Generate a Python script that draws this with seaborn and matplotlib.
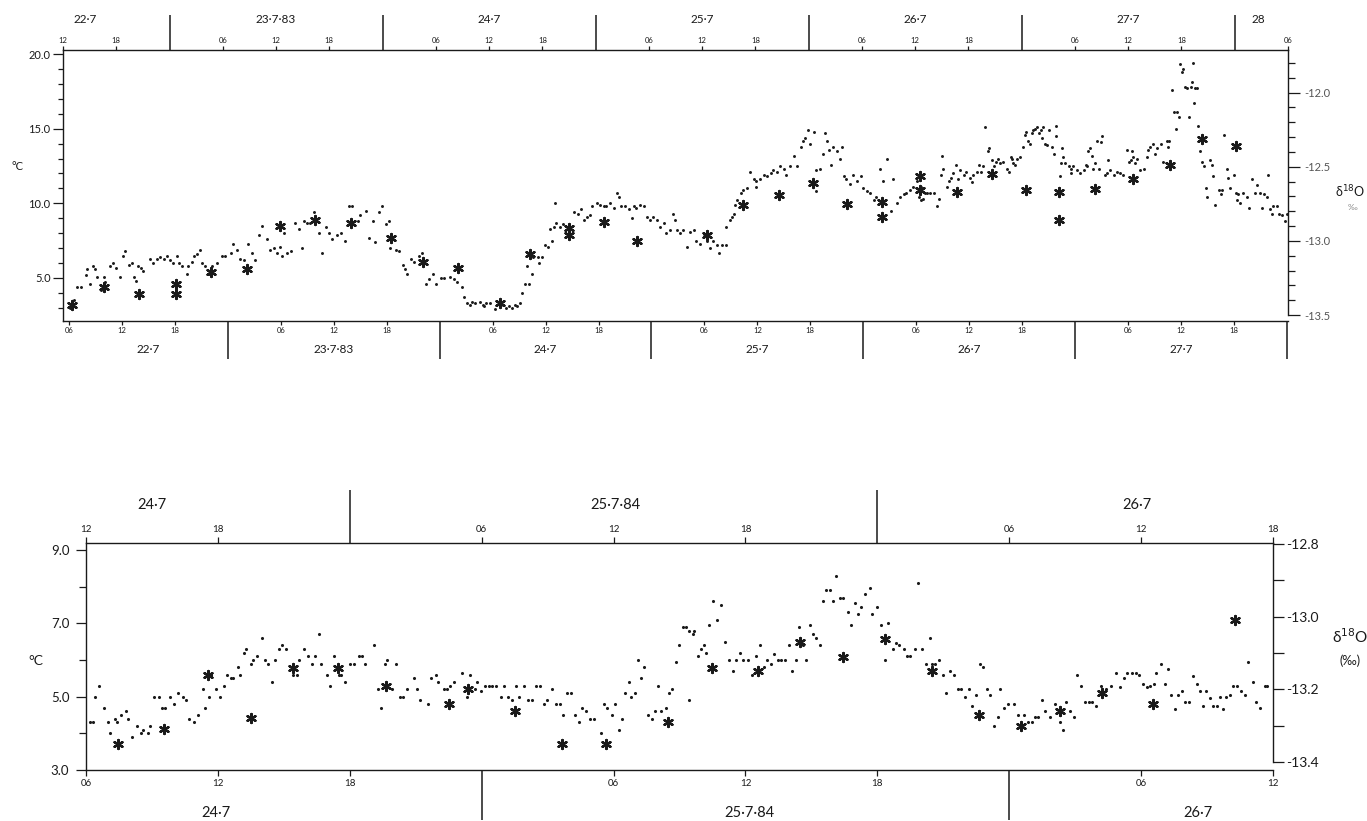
import matplotlib
matplotlib.use("Agg")
import matplotlib.pyplot as plt
import matplotlib.ticker as mt
from matplotlib.transforms import blended_transform_factory as blend
import pandas as pd
import seaborn as sns

# ------------------------------------------------------------------ data
# Upper panel (July 1983)
# air temperature: (hours after 22-7 00:00 on the lower time axis, deg C)
temp83_a = [(6.1,3.0),(6.5,3.5),(6.9,4.4),(7.3,4.4),(7.9,5.2),(8.0,5.6),(8.4,4.6),(8.7,5.8),(8.9,5.6),(9.1,5.1),
            (9.6,4.2),(9.9,5.1),(10.1,4.7),(10.6,5.8),(11.0,6.0),(11.3,5.7),(11.8,5.1),(12.1,6.5),(12.3,6.8),(12.8,5.9),
            (13.1,6.0),(13.3,5.1),(13.6,4.8),(13.8,5.8),(14.1,5.7),(14.4,5.5),(15.2,6.3),(15.5,6.0),(15.9,6.3),(16.3,6.4),
            (16.7,6.3),(17.1,6.5),(17.4,6.2),(17.8,6.0),(18.2,6.5),(18.4,6.0),(18.8,5.8),(19.3,5.3),(19.5,5.8),(19.9,6.1),
            (20.2,6.5),(20.5,6.6),(20.8,6.9),(21.0,6.0),(21.4,5.8),(21.8,5.3),(22.2,5.8),(22.7,6.0),(23.3,6.5),(23.7,6.5),
            (24.3,6.7),(24.6,7.3),(25.0,6.9),(25.4,6.3),(25.8,6.2),(26.3,7.3),(26.7,6.7),(27.1,6.2),(27.5,7.9),(27.9,8.5),
            (28.4,7.6),(28.8,6.9),(29.2,7.0),(29.6,6.7),(29.9,7.1),(30.1,6.5),(30.4,8.0),(30.7,6.7),(31.1,6.8),(31.6,8.7),
            (32.0,8.3),(32.4,7.0),(32.6,8.8),(33.0,8.7),(33.3,8.7),(33.7,9.4),(34.3,8.0),(34.7,6.7),(35.1,8.4),(35.4,8.0),
            (35.8,7.6),(36.4,7.9),(36.8,8.0),(37.3,7.5),(37.7,9.8),(38.1,9.8),(38.7,8.8),(39.0,9.2),(39.6,9.5),(40.0,7.7),
            (40.4,8.8),(40.7,7.4),(41.1,9.4),(41.5,9.8),(41.9,8.6),(42.3,8.8),(42.4,7.0),(43.0,6.9),(43.4,6.8),(43.8,5.9),
            (44.1,5.6),(44.3,5.3),(44.7,6.3),(45.1,6.1),(45.7,6.5),(46.0,6.7),(46.4,4.6),(46.8,4.9),(47.2,5.3),(47.6,4.6),
            (48.1,5.0),(48.5,5.0)]
temp83_b = [(49.2,5.1),(49.6,4.9),(50.0,4.7),(50.5,4.4),(50.8,3.75),(51.1,3.3),(51.4,3.2),(51.7,3.4),(52.0,3.3),(52.6,3.4),
            (52.9,3.2),(53.0,3.1),(53.3,3.3),(53.7,3.3),(54.3,2.9),(54.8,3.4),(55.2,3.2),(55.5,3.0),(55.8,3.1),(56.2,3.0),
            (56.5,3.2),(56.8,3.1),(57.1,3.3),(57.3,4.0),(57.7,4.6),(57.9,5.8),(58.0,6.7),(58.1,4.6),(58.5,5.3),(58.6,6.4),
            (59.1,6.4),(59.3,6.0),(59.6,6.4),(59.9,7.2),(60.3,7.1),(60.5,8.3),(60.7,7.5),(60.9,8.4),(61.1,10.0),(61.2,8.7),
            (61.6,8.4),(62.0,8.6),(62.5,8.4),(63.2,9.4),(63.7,9.3),(64.0,9.6),(64.3,8.9),(64.7,9.1),(65.0,9.2),(65.3,9.8),
            (65.8,10.0),(66.2,9.9),(66.6,9.8),(66.9,9.8),(67.3,10.0),(67.7,9.7),(68.1,10.7),(68.3,10.4),(68.6,9.8),(69.0,9.8),
            (69.4,9.6),(69.8,9.0),(70.0,9.8),(70.3,9.7),(70.7,9.9),(71.1,9.8),(71.5,9.1),(71.8,8.9),(72.2,9.1),(72.6,8.9),
            (73.0,8.4),(73.4,8.7),(73.7,8.0),(74.1,8.2),(74.4,9.3),(74.7,8.9),(74.9,8.2),(75.2,8.0),(75.6,8.2),(76.0,7.1),
            (76.4,8.1),(76.8,8.2),(77.1,7.5),(77.5,7.3),(77.9,7.8),(78.3,7.5),(78.6,7.0),(79.0,7.5),(79.4,7.2),(79.7,6.7),
            (80.0,7.2),(80.4,7.2),(80.5,8.4),(80.9,8.9),(81.1,9.1),(81.3,9.3),(81.5,9.9),(81.7,10.2),(82.1,10.7),(82.4,10.9),
            (82.8,11.0),(83.2,12.1),(83.6,11.6),(83.8,11.1),(83.9,11.5),(84.3,11.6),(84.7,11.9),(85.1,11.8),(85.5,12.0),(85.8,12.2),
            (86.2,12.1),(86.6,12.5),(87.0,12.3),(87.3,11.9),(87.7,12.5),(88.1,13.2),(88.5,12.5),(88.9,13.8),(89.2,14.2),(89.4,14.4),
            (89.8,14.9),(90.0,14.0),(90.4,14.8),(90.6,12.2),(90.7,10.8),(91.1,12.3),(91.5,13.3),(91.7,14.7),(91.9,14.2),(92.1,13.6),
            (92.3,12.6),(92.6,13.8),(93.0,13.5),(93.4,13.0),(93.6,13.8),(93.8,11.8),(94.1,11.6),(94.5,11.3),(94.9,11.9),(95.3,11.5),
            (95.7,11.8),(96.0,11.0),(96.4,10.8),(96.8,10.7),(97.2,10.2),(97.5,10.4),(97.9,12.3),(98.3,11.5),(98.7,13.0),(99.1,9.5),
            (99.4,11.6),(99.8,10.0)]
temp83_c = [(100.2,10.4),(100.6,10.6),(100.9,10.7),(101.3,10.9),(101.7,11.1),(102.1,11.5),(102.3,10.4),(102.5,11.1),(102.6,10.2),(102.8,10.3),
            (103.0,10.7),(103.2,10.7),(103.6,10.7),(104.0,10.7),(104.4,9.8),(104.6,10.3),(104.8,11.9),(104.9,13.2),(105.1,12.3),(105.5,11.1),
            (105.7,11.5),(105.9,11.7),(106.2,12.0),(106.5,12.6),(106.8,11.6),(107.0,12.2),(107.4,11.9),(107.7,12.1),(108.1,11.7),(108.3,11.4),
            (108.5,11.9),(108.9,12.1),(109.1,12.6),(109.3,12.1),(109.6,12.5),(109.8,15.1),(110.1,13.5),(110.3,13.7),(110.6,12.9),(110.8,12.5),
            (111.1,12.8),(111.3,13.0),(111.5,12.7),(111.9,12.8),(112.3,12.3),(112.5,12.1),(112.7,13.1),(112.9,13.0),(113.0,12.7),(113.2,12.6),
            (113.4,13.0),(113.8,13.1),(114.1,13.8),(114.3,14.6),(114.5,14.8),(114.7,14.2),(114.9,14.0),(115.1,14.7),(115.3,14.9),(115.5,15.0),
            (115.7,15.1),(115.9,14.7),(116.1,14.9),(116.3,14.4),(116.4,15.1),(116.6,14.0),(116.8,13.9),(117.1,14.9),(117.4,13.8),(117.6,13.3),
            (117.8,15.2),(117.9,14.5),(118.3,11.8),(118.4,12.7),(118.5,13.7),(118.7,13.1),(118.9,12.7),(119.3,12.5),(119.5,12.0),(119.6,12.3),
            (119.8,12.5),(120.2,12.2),(120.6,12.0),(121.0,12.2),(121.2,12.6),(121.4,12.5),(121.5,13.5),(121.7,13.7),(121.9,13.2),(122.1,12.3),
            (122.3,12.7),(122.5,14.2),(122.7,12.3),(122.9,14.1),(123.1,14.5),(123.4,11.9),(123.6,12.0),(123.8,12.9),(124.0,12.2),(124.4,11.9),
            (124.8,12.1),(125.1,12.0),(125.5,11.9),(125.9,13.6),(126.1,12.8),(126.3,12.9),(126.5,13.5),(126.6,13.1),(126.8,12.7),(127.0,13.0),
            (127.4,12.2),(127.8,12.3),(128.2,13.1),(128.3,13.6),(128.5,13.8),(128.9,14.0),(129.1,13.3),(129.3,13.7),(129.7,14.0),(130.0,12.8),
            (130.4,14.2),(130.6,13.8),(130.7,14.2),(131.0,17.6),(131.2,16.1),(131.4,15.0),(131.6,16.1),(131.8,15.8),(131.9,19.3),(132.1,18.8),
            (132.3,19.0),(132.5,17.8),(132.7,17.7),(132.9,15.8),(133.1,17.8),(133.3,18.1),(133.4,19.4),(133.5,16.7),(133.6,17.7),(133.8,17.7),
            (134.0,15.2),(134.2,13.5),(134.4,12.8),(134.6,12.5),(134.8,11.0),(135.0,10.4),(135.3,12.9),(135.5,12.6),(135.7,11.8),(135.9,9.9),
            (136.3,10.9),(136.5,10.6),(136.7,10.9),(136.9,14.6),(137.2,12.3),(137.4,11.7),(137.6,11.0),(138.0,11.9),(138.2,10.7),(138.4,10.2),
            (138.5,10.6),(138.7,10.0),(139.1,10.7),(139.5,10.4),(139.7,9.7),(140.1,11.6),(140.4,10.7),(140.6,11.2),(141.0,10.7),(141.2,9.7),
            (141.4,10.6),(141.8,10.4),(141.9,11.9),(142.1,9.6),(142.3,9.3),(142.5,9.8),(142.9,9.8),(143.1,9.3),(143.5,9.2),(143.8,8.8),
            (144.0,9.3)]
# delta 18O of samples: (hours after 22-7 00:00 on the upper time axis, permil)
d18o83 = [(13.0,-13.43),(16.6,-13.31),(20.6,-13.36),(24.7,-13.29),(24.7,-13.36),(28.7,-13.21),(32.7,-13.19),(36.4,-12.90),
          (40.4,-12.86),(44.4,-12.88),(48.9,-12.98),(52.6,-13.14),(56.5,-13.18),(61.2,-13.42),(64.6,-13.09),(69.0,-12.91),
          (69.0,-12.96),(72.9,-12.87),(76.7,-13.00),(84.5,-12.96),(88.6,-12.76),(92.7,-12.69),(96.5,-12.61),(100.3,-12.75),
          (104.3,-12.74),(104.3,-12.84),(108.5,-12.56),(108.5,-12.66),(112.7,-12.67),(116.7,-12.55),(120.5,-12.66),
          (124.2,-12.67),(124.2,-12.86),(128.3,-12.65),(132.5,-12.58),(136.7,-12.49),(140.3,-12.31),(144.1,-12.36)]

# Lower panel (July 1984)
# air temperature: (hours after 24-7 00:00 on the lower time axis, deg C)
temp84_a = [(6.2,4.3),(6.3,4.3),(6.4,5.0),(6.6,5.3),(6.8,4.7),(7.0,4.3),(7.1,4.0),(7.3,4.4),(7.4,4.3),(7.6,4.5),
            (7.8,4.6),(7.9,4.4),(8.1,3.9),(8.3,4.2),(8.5,4.0),(8.6,4.1),(8.8,4.0),(8.9,4.2),(9.1,5.0),(9.3,5.0),
            (9.45,4.7),(9.6,4.7),(9.8,5.0),(10.0,4.8),(10.2,5.1),(10.4,5.0),(10.55,4.9),(10.7,4.4),(10.9,4.3),(11.1,4.5),
            (11.3,5.2),(11.4,4.7),(11.55,5.6),(11.6,5.0),(11.7,5.6),(11.9,5.2),(12.1,5.0),(12.3,5.3),(12.4,5.6),(12.6,5.5),
            (12.7,5.5),(12.9,5.8),(13.0,5.6),(13.2,6.2),(13.3,6.3),(13.5,5.9),(13.6,6.0),(13.8,6.1),(14.0,6.6),(14.15,6.0),
            (14.3,5.9),(14.45,5.4),(14.6,6.0),(14.8,6.3),(14.9,6.4),(15.1,6.3),(15.4,5.6),(15.6,5.6),(15.7,6.0),(15.9,6.3),
            (16.1,6.1),(16.3,5.9),(16.4,6.1),(16.6,6.7),(16.7,5.9),(16.95,5.6),(17.1,5.3),(17.3,6.1),(17.4,5.8),(17.5,5.6),
            (17.6,5.6),(17.8,5.4),(18.0,5.9),(18.2,5.9),(18.4,6.1),(18.55,6.1),(18.7,5.9),(19.1,6.4),(19.3,5.2),(19.4,4.7),
            (19.6,5.9),(19.7,6.0),(19.9,5.2),(20.1,5.9),(20.3,5.0),(20.4,5.0),(20.6,5.2),(20.9,5.5),(21.05,5.2),(21.2,4.9),
            (21.55,4.8),(21.7,5.5),(21.9,5.6),(22.0,5.4),(22.3,5.2)]
temp84_b = [(22.43,5.2),(22.58,5.3),(22.73,5.4),(23.11,5.65),(23.34,5.0),(23.49,5.6),(23.69,5.2),(23.79,5.4),(23.99,5.15),
            (24.17,5.3),(24.33,5.3),(24.48,5.3),(24.63,5.3),(24.86,5.0),(25.01,5.3),(25.21,5.0),(25.39,4.9),(25.54,5.3),(25.72,5.0),
            (25.92,5.3),(26.12,4.9),(26.30,4.9),(26.45,5.3),(26.64,5.3),(26.83,4.8),(26.99,4.9),(27.21,5.2),(27.40,4.8),(27.55,4.8),
            (27.70,4.5),(27.90,5.1),(28.05,5.1),(28.25,4.5),(28.43,4.3),(28.58,4.7),(28.73,4.6),(28.92,4.4),(29.11,4.4),(29.42,4.0),
            (29.57,4.8),(29.72,4.7),(29.92,4.5),(30.07,4.8),(30.25,4.1),(30.37,4.4),(30.51,5.1),(30.68,5.4),(30.81,5.0),(30.98,5.1),
            (31.09,6.0),(31.24,5.5),(31.39,5.8),(31.57,4.5),(31.74,4.4),(31.89,4.6),(32.03,5.3),(32.15,4.6),(32.38,4.7),(32.53,5.1),
            (32.68,5.2),(32.84,5.95),(32.99,6.4),(33.14,6.9),(33.29,6.9),(33.44,6.8),(33.60,6.7),(33.67,6.8),(33.44,4.9),(33.82,6.1),
            (33.98,6.3),(34.13,6.4),(34.20,6.2),(34.36,6.95),(34.51,7.6),(34.69,7.1),(34.89,7.5),(35.09,6.5),(35.24,6.0),(35.42,5.7),
            (35.57,6.0),(35.75,6.2),(35.91,6.0),(36.10,6.0),(36.30,5.6),(36.48,6.1),(36.67,6.4),(36.86,5.8),(36.99,6.0),(37.17,5.9),
            (37.32,6.15),(37.47,6.0),(37.62,6.0),(37.82,6.0),(37.97,6.4),(38.12,5.7),(38.28,6.0),(38.43,6.9),(38.61,6.4),(38.76,6.0),
            (38.92,6.95),(39.07,6.7),(39.22,6.6),(39.37,6.4),(39.52,7.6),(39.68,7.9),(39.83,7.9),(39.98,7.6),(40.13,8.3),(40.28,7.7),
            (40.44,7.7),(40.66,7.3),(40.82,6.95),(40.97,7.55),(41.12,7.25),(41.27,7.45),(41.42,7.8),(41.65,7.95),(41.77,7.25),(41.99,7.45),
            (42.18,6.95),(42.33,6.0),(42.49,7.0),(42.71,6.3),(42.87,6.45)]
temp84_c = [(42.97,6.4),(43.20,6.3),(43.35,6.1),(43.50,6.1),(43.70,6.3),(43.85,8.1),(44.03,6.3),(44.21,5.9),(44.41,6.6),(44.48,5.9),
            (44.64,5.9),(44.79,6.0),(44.97,5.6),(45.13,5.1),(45.32,5.7),(45.47,5.6),(45.66,5.2),(45.82,5.2),(46.0,5.0),(46.15,5.2),
            (46.30,4.75),(46.48,5.05),(46.65,5.9),(46.80,5.8),(46.98,5.2),(47.13,5.05),(47.33,4.2),(47.47,4.45),(47.59,5.2),(47.78,4.7),
            (47.94,4.8),(48.24,4.8),(48.39,4.5),(48.65,4.5),(48.87,4.3),(49.03,4.3),(49.18,4.45),(49.30,4.45),(49.48,4.9),(49.63,4.6),
            (49.86,4.45),(50.08,4.8),(50.31,4.3),(50.43,4.1),(50.58,4.85),(50.77,4.6),(50.95,4.45),(51.10,5.6),(51.27,5.3),(51.45,4.85),
            (51.63,4.85),(51.78,4.85),(51.93,4.75),(52.17,5.3),(52.39,5.2),(52.61,5.3),(52.84,5.65),(53.04,5.25),(53.23,5.5),(53.38,5.65),
            (53.57,5.65),(53.75,5.65),(53.90,5.6),(54.10,5.35),(54.25,5.25),(54.40,5.3),(54.58,5.35),(54.70,5.65),(54.90,5.9),(55.08,5.35),
            (55.23,5.75),(55.38,5.05),(55.56,4.65),(55.69,5.05),(55.87,5.15),(55.99,4.85),(56.17,4.85),(56.37,5.55),(56.52,5.35),(56.67,5.15),
            (56.82,4.75),(56.97,5.15),(57.12,4.95),(57.28,4.75),(57.43,4.75),(57.58,5.0),(57.73,4.65),(57.88,5.0),(58.03,5.05),(58.18,5.3),
            (58.38,5.3),(58.56,5.15),(58.71,5.05),(58.86,5.95),(59.09,5.4),(59.24,4.85),(59.39,4.7),(59.62,5.3),(59.74,5.3)]
# delta 18O of samples: (hours after 24-7 00:00 on the upper time axis, permil)
d18o84 = [(13.45,-13.35),(15.53,-13.31),(17.57,-13.16),(19.51,-13.28),(21.40,-13.14),(23.47,-13.14),(25.67,-13.19),
          (28.50,-13.24),(29.38,-13.20),(31.50,-13.26),(33.65,-13.35),(35.66,-13.35),(38.46,-13.29),(40.50,-13.14),
          (42.55,-13.15),(44.48,-13.07),(46.44,-13.11),(48.37,-13.06),(50.50,-13.15),(52.62,-13.27),(54.54,-13.30),
          (56.33,-13.26),(58.22,-13.21),(60.52,-13.24),(64.27,-13.01)]

# day labels
days83_upper = ["22·7", "23·7·83", "24·7", "25·7", "26·7", "27·7", "28"]
days83_lower = ["22·7", "23·7·83", "24·7", "25·7", "26·7", "27·7"]
days84_upper = ["24·7", "25·7·84", "26·7"]
days84_lower = ["24·7", "25·7·84", "26·7"]
temp_label = "°C"

# ------------------------------------------------------------------ style
sns.set_style("white")
plt.rcParams["font.family"] = ["Lato", "DejaVu Sans"]
INK = "#1a1a1a"

fig = plt.figure(figsize=(13.67, 8.21), dpi=100, facecolor="white")


def hour_fmt(v, pos):
    return f"{int(round(v)) % 24:02d}"


def build(rect, temp, d18o, xlim_b, xlim_t, ylim_l, ylim_r, yl_major, yl_minor,
          yr_major, yr_minor, right_floor, s):
    ax = fig.add_axes(rect)
    axd = fig.add_axes(rect)
    axd.patch.set_visible(False)

    dft = pd.DataFrame(temp, columns=["hour", "temp"])
    dfd = pd.DataFrame(d18o, columns=["hour", "d18o"])
    sns.scatterplot(data=dft, x="hour", y="temp", ax=ax, s=s["dot"], color=INK,
                    linewidth=0, marker="o", legend=False, zorder=3)
    sns.scatterplot(data=dfd, x="hour", y="d18o", ax=axd, s=s["star"], color=INK,
                    marker=(6, 2, 0), linewidth=s["starlw"], legend=False, zorder=4)

    for a in (ax, axd):
        a.set_xlabel("")
        a.set_ylabel("")
    ax.set_xlim(*xlim_b)
    ax.set_ylim(*ylim_l)
    axd.set_xlim(*xlim_t)
    axd.set_ylim(*ylim_r)

    for sp in ("top", "right"):
        ax.spines[sp].set_visible(False)
    for sp in ("bottom", "left"):
        axd.spines[sp].set_visible(False)
    for a, names in ((ax, ("left", "bottom")), (axd, ("top", "right"))):
        for sp in names:
            a.spines[sp].set_color(INK)
            a.spines[sp].set_linewidth(1.0)
    axd.spines["right"].set_bounds(right_floor, ylim_r[1])

    # lower time axis (temperature)
    lo, hi = xlim_b
    ax.xaxis.set_major_locator(mt.FixedLocator([h for h in range(0, 200, 6) if h % 24 and lo - 0.3 <= h <= hi + 0.3]))
    ax.xaxis.set_major_formatter(mt.FuncFormatter(hour_fmt))
    ax.xaxis.set_minor_locator(mt.FixedLocator([h for h in range(24, 200, 24) if lo <= h <= hi + 0.3]))
    ax.tick_params(axis="x", which="major", direction="out", length=s["hl"], width=0.9,
                   labelsize=s["hfs"], pad=s["hpad"], colors=INK, bottom=True, top=False)
    ax.tick_params(axis="x", which="minor", direction="out", length=s["blb"], width=1.1,
                   colors=INK, bottom=True, top=False)

    # upper time axis (delta 18O)
    lo, hi = xlim_t
    axd.xaxis.tick_top()
    axd.xaxis.set_major_locator(mt.FixedLocator([h for h in range(0, 200, 6) if h % 24 and lo - 0.3 <= h <= hi + 0.3]))
    axd.xaxis.set_major_formatter(mt.FuncFormatter(hour_fmt))
    axd.xaxis.set_minor_locator(mt.FixedLocator([h for h in range(24, 200, 24) if lo <= h <= hi + 0.3]))
    axd.tick_params(axis="x", which="major", direction="out", length=s["hl"], width=0.9,
                    labelsize=s["hfs"], pad=s["hpad"], colors=INK, top=True, bottom=False,
                    labeltop=True, labelbottom=False)
    axd.tick_params(axis="x", which="minor", direction="out", length=s["blt"], width=1.1,
                    colors=INK, top=True, bottom=False)

    # left axis (temperature)
    ax.yaxis.set_major_locator(mt.FixedLocator(yl_major))
    ax.yaxis.set_minor_locator(mt.FixedLocator(yl_minor))
    ax.yaxis.set_major_formatter(mt.FormatStrFormatter("%.1f"))
    ax.tick_params(axis="y", which="major", direction="out", length=s["yl"], width=0.9,
                   labelsize=s["yfs"], pad=s["ypad"], colors=INK, left=True, right=False)
    ax.tick_params(axis="y", which="minor", direction="out", length=s["yml"], width=0.9,
                   colors=INK, left=True, right=False)

    # right axis (delta 18O)
    axd.yaxis.tick_right()
    axd.yaxis.set_major_locator(mt.FixedLocator(yr_major))
    axd.yaxis.set_minor_locator(mt.FixedLocator(yr_minor))
    axd.yaxis.set_major_formatter(mt.FormatStrFormatter("%.1f"))
    axd.tick_params(axis="y", which="major", direction="out", length=s["rl"], width=0.9,
                    labelsize=s["rfs"], pad=s["rpad"], colors=INK, labelcolor=s["rcol"],
                    right=True, left=False, labelright=True, labelleft=False)
    axd.tick_params(axis="y", which="minor", direction="out", length=s["rml"], width=0.9,
                    colors=INK, right=True, left=False)
    return ax, axd


# ------------------------------------------------------------------ upper panel
s83 = dict(dot=4.5, star=42, starlw=1.7, hl=3.0, hfs=5.5, hpad=1.5, blb=27, blt=25,
           yl=7, yml=3.5, yfs=8, ypad=2, rl=8.5, rml=5, rfs=8, rpad=3, rcol="#555555")
ax1, ax1d = build([63 / 1367, 1 - 321 / 821, 1225 / 1367, 271 / 821],
                  temp83_a + temp83_b + temp83_c, d18o83,
                  (5.3, 144.15), (12.0, 150.0), (2.12, 20.27), (-13.54, -11.713),
                  [5, 10, 15, 20], [h for h in range(3, 20)],
                  [-12.0, -12.5, -13.0, -13.5], [round(-13.5 + 0.1 * i, 1) for i in range(18)],
                  -13.5, s83)
for x, lab in zip([14.5, 36, 60, 84, 108, 132, 146.6], days83_upper):
    ax1d.text(x, 1.114, lab, transform=blend(ax1d.transData, ax1d.transAxes),
              ha="center", va="center", fontsize=8.5, color=INK)
for x, lab in zip([14.9, 36, 60, 84, 108, 132], days83_lower):
    ax1.text(x, -0.107, lab, transform=blend(ax1.transData, ax1.transAxes),
             ha="center", va="center", fontsize=8.5, color=INK)
fig.text(18 / 1367, 1 - 167 / 821, temp_label, ha="center", va="center", fontsize=8, color=INK)
fig.text(1350 / 1367, 1 - 192 / 821, r"δ$^{18}$O", ha="center", va="center", fontsize=9, color=INK)
fig.text(1352 / 1367, 1 - 207 / 821, "‰", ha="center", va="center", fontsize=6, color="#888888")

# ------------------------------------------------------------------ lower panel
s84 = dict(dot=5, star=42, starlw=1.7, hl=4.5, hfs=7, hpad=2, blb=36, blt=38,
           yl=7, yml=5, yfs=9.5, ypad=5, rl=8, rml=8, rfs=10, rpad=1.5, rcol=INK)
ax2, ax2d = build([86 / 1367, 1 - 770 / 821, 1187 / 1367, 227 / 821],
                  temp84_a + temp84_b + temp84_c, d18o84,
                  (6.0, 60.0), (12.0, 66.0), (3.0, 9.19), (-13.422, -12.797),
                  [3, 5, 7, 9], [4, 6, 8],
                  [-12.8, -13.0, -13.2, -13.4], [-12.9, -13.1, -13.3],
                  -13.4, s84)
for x, lab in zip([15.0, 36.1, 59.8], days84_upper):
    ax2d.text(x, 1.167, lab, transform=blend(ax2d.transData, ax2d.transAxes),
              ha="center", va="center", fontsize=10.5, color=INK)
for x, lab in zip([11.9, 36.2, 56.6], days84_lower):
    ax2.text(x, -0.189, lab, transform=blend(ax2.transData, ax2.transAxes),
             ha="center", va="center", fontsize=10.5, color=INK)
fig.text(36 / 1367, 1 - 661 / 821, temp_label, ha="center", va="center", fontsize=10, color=INK)
fig.text(1350 / 1367, 1 - 637 / 821, r"δ$^{18}$O", ha="center", va="center", fontsize=11, color=INK)
fig.text(1350 / 1367, 1 - 661 / 821, "(‰)", ha="center", va="center", fontsize=9, color=INK)

fig.savefig("out.png", dpi=100, facecolor="white")
